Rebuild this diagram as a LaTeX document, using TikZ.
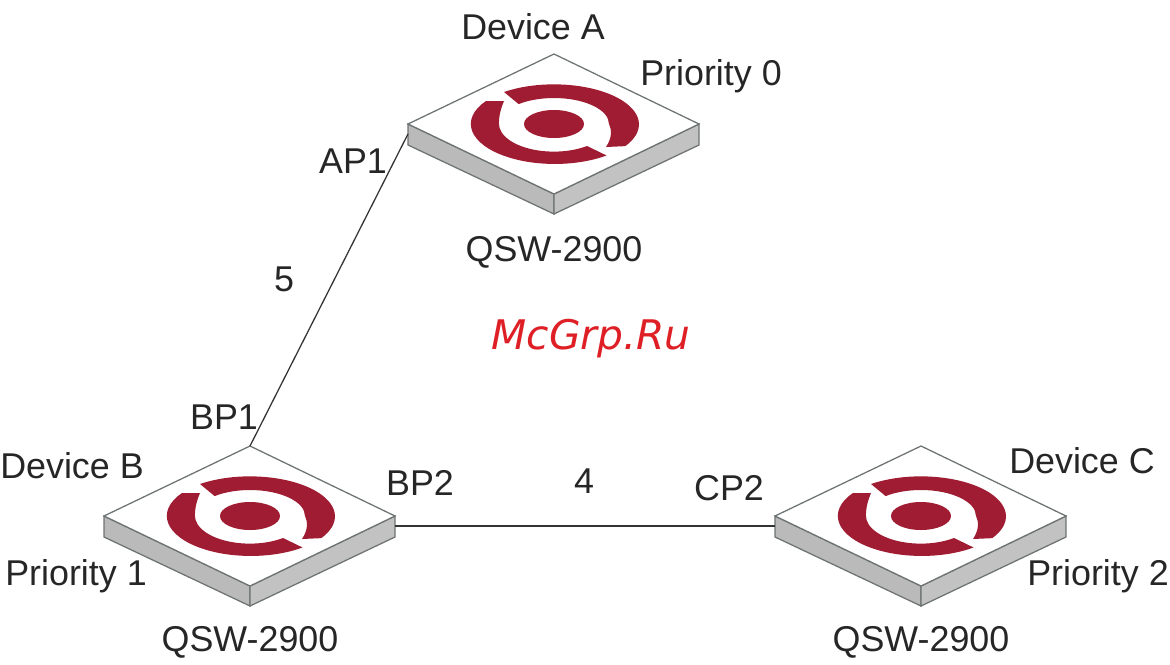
\documentclass[tikz,border=0pt]{standalone}
\usepackage{fontspec}
\setmainfont{Liberation Sans}
\newfontfamily\markfont{DejaVu Sans}
\usepackage{tikz}
\definecolor{logored}{RGB}{160,28,50}
\definecolor{sidegrey}{RGB}{186,186,186}
\definecolor{edgegrey}{RGB}{110,115,115}
\definecolor{markred}{RGB}{222,32,38}
\tikzset{
  lbl/.style={font=\fontsize{25.5}{30}\selectfont, text=black!85, inner sep=0pt},
  link/.style={draw=black!80, line width=0.9pt},
  pics/switchbox/.style={code={
    \draw[edgegrey, line width=0.9pt, fill=sidegrey] (-146,0)--(0,70)--(0,90)--(-146,21)--cycle;
    \draw[edgegrey, line width=0.9pt, fill=sidegrey!88] (0,70)--(145,0)--(145,21)--(0,90)--cycle;
    \draw[edgegrey, line width=0.9pt, fill=white] (-146,0)--(0,-70)--(145,0)--(0,70)--cycle;
    \fill[logored] (0,0) ellipse [x radius=30, y radius=14];
    % upper ring part
    \fill[logored] (-50,-32) arc [start angle=234, end angle=393, x radius=85, y radius=40]
      -- (52,23) .. controls (58,14) and (58,6) .. (55,0)
      arc [start angle=0, end angle=-130, x radius=55, y radius=26] -- cycle;
    % lower ring part
    \fill[logored] (-68,-23) arc [start angle=215, end angle=52, x radius=84, y radius=40]
      -- (33,22) arc [start angle=53, end angle=180, x radius=55, y radius=28]
      .. controls (-55,-9) and (-53,-16) .. (-50,-23) -- cycle;
    \coordinate (-top) at (0,-70);
    \coordinate (-wport) at (-146,10);
    \coordinate (-eport) at (145,10);
  }}
}
\begin{document}
\begin{tikzpicture}[x=0.025cm, y=-0.025cm]
\useasboundingbox (0,0) rectangle (1170,664);
\path (554,124) pic (devA) {switchbox};
\path (250,516) pic (devB) {switchbox};
\path (921,516) pic (devC) {switchbox};
\draw[link] (devA-wport) -- (devB-top);
\draw[link] (devB-eport) -- (devC-wport);
\node[lbl] (nameA) at (533,27) {Device A};
\node[lbl] (prioA) at (711,76) {Priority 0};
\node[lbl] (modelA) at (554,252) {QSW-2900};
\node[lbl] (ap1) at (353,161) {AP1};
\node[lbl] (len5) at (284,279) {5};
\node[lbl] (bp1) at (224,417) {BP1};
\node[lbl] (nameB) at (72,466) {Device B};
\node[lbl] (prioB) at (76,576) {Priority 1};
\node[lbl] (modelB) at (250,642) {QSW-2900};
\node[lbl] (bp2) at (420,483) {BP2};
\node[lbl] (len4) at (584,481) {4};
\node[lbl] (cp2) at (729,488) {CP2};
\node[lbl] (nameC) at (1082,461) {Device C};
\node[lbl] (prioC) at (1098,576) {Priority 2};
\node[lbl] (modelC) at (921,642) {QSW-2900};
\node[inner sep=0pt, text=markred] (mark) at (591,339) {\markfont\itshape\fontsize{29}{34}\selectfont McGrp.Ru};
\end{tikzpicture}
\end{document}
